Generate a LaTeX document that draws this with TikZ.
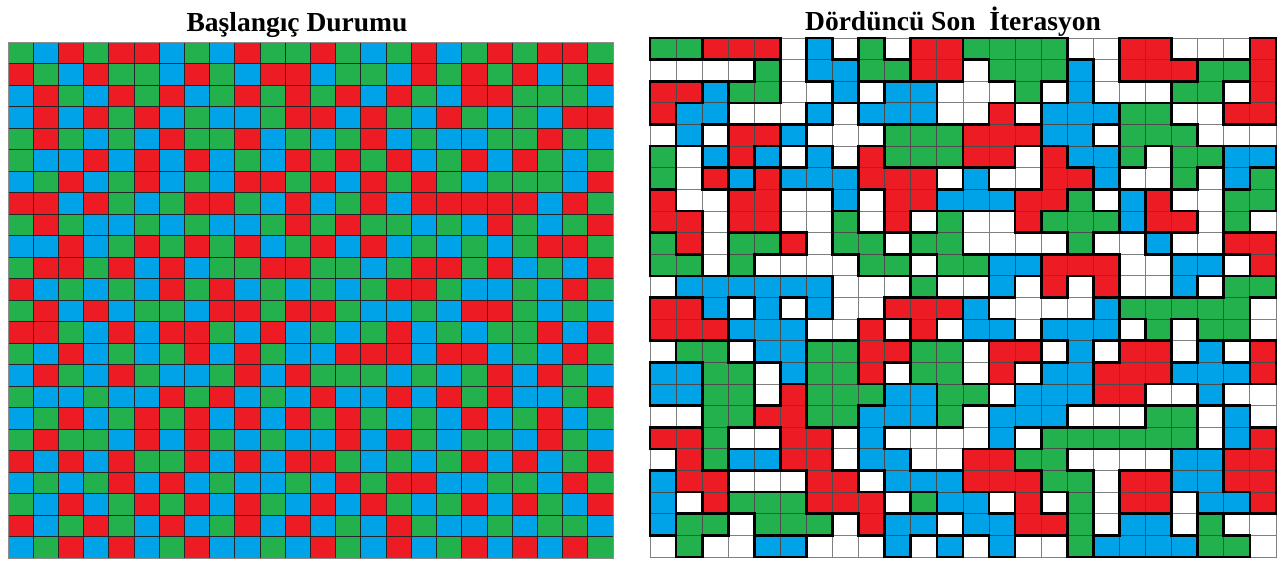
\documentclass[tikz,border=0pt]{standalone}
\usepackage{fontspec}
\setmainfont{Liberation Serif}
\usepackage{xcolor}
\usetikzlibrary{calc}

\definecolor{cellG}{RGB}{34,177,76}
\definecolor{cellR}{RGB}{237,28,36}
\definecolor{cellB}{RGB}{0,162,232}
\definecolor{cellW}{RGB}{255,255,255}
\colorlet{lineG}{black!70}
\colorlet{lineR}{black!70}
\colorlet{lineB}{black!70}
\colorlet{lineW}{black!50}

% colour of cell (row #2, col #3) of the last grid, W outside
\newcommand\getsq[3]{\ifcsname sq#2-#3\endcsname\edef#1{\csname sq#2-#3\endcsname}\else\def#1{W}\fi}

\begin{document}
\begin{tikzpicture}[x=1pt,y=-1pt,
  cellline/.style={draw=black!85, line width=0.9pt},
  wall/.style={draw=black, line width=2.7pt, line cap=rect},
  title/.style={font=\fontsize{27.5}{30}\selectfont\bfseries, anchor=base, inner sep=0pt}]
\useasboundingbox (0,0) rectangle (1281,563);

% titles
\node[title] (startTitle) at (297,31) {Başlangıç Durumu};
\node[title] (lastTitle) at (953,30) {Dördüncü Son\ \ İterasyon};

% start grid: 24 x 24 cells
\def\ax{8} \def\ay{42} \def\aw{25.21} \def\ah{21.5}
\foreach \row [count=\r from 0] in {
  {G,B,R,G,R,R,B,G,B,R,G,G,R,G,B,G,R,B,G,R,G,R,R,G},
  {R,G,B,R,G,G,B,R,G,B,R,R,B,G,G,B,R,G,R,G,R,B,G,R},
  {B,R,G,B,R,G,R,B,G,R,G,R,G,R,B,R,G,B,R,R,G,G,G,B},
  {B,R,B,R,G,R,B,G,B,B,G,R,R,B,R,G,B,R,G,B,G,B,R,R},
  {G,R,G,B,G,B,R,G,G,R,B,G,B,G,R,B,G,B,B,G,G,R,G,B},
  {G,B,B,R,B,R,B,R,B,G,B,R,G,R,G,R,B,G,R,B,R,G,B,G},
  {B,G,R,B,G,R,B,G,B,R,R,G,R,B,R,G,R,G,B,G,G,G,B,R},
  {R,R,B,R,G,B,G,R,R,G,B,R,B,G,R,B,R,R,R,R,R,B,R,G},
  {G,R,G,B,B,G,B,G,B,B,G,R,G,R,G,G,B,G,B,R,G,B,G,R},
  {B,B,R,B,G,R,G,R,G,R,B,G,R,B,R,B,G,B,G,B,G,R,R,G},
  {G,R,R,G,R,B,R,B,G,G,R,R,G,G,B,G,R,R,G,R,B,G,B,R},
  {R,B,G,B,G,B,R,G,R,B,G,B,G,B,G,R,R,G,B,B,G,B,R,G},
  {G,R,B,R,B,G,G,B,R,R,G,R,R,G,B,B,G,B,R,R,G,B,G,B},
  {R,R,G,B,R,B,R,R,G,B,R,B,G,B,G,R,B,G,B,G,G,R,B,R},
  {G,B,R,B,G,B,G,R,B,R,G,B,B,R,R,R,B,R,R,B,G,B,R,G},
  {B,R,G,B,R,G,B,B,G,R,B,R,G,G,G,B,G,B,G,R,B,R,G,B},
  {G,B,B,G,B,B,R,G,R,B,G,B,R,B,B,R,B,R,G,R,B,B,G,R},
  {B,G,R,B,G,R,G,R,B,R,B,R,G,R,G,B,G,B,R,B,G,R,B,G},
  {G,R,G,G,B,R,B,R,G,B,G,B,B,R,B,R,G,B,G,G,B,R,G,B},
  {R,B,R,B,R,G,G,R,B,R,B,R,R,G,B,G,B,G,R,B,R,B,G,R},
  {B,G,B,G,R,B,R,B,G,B,B,G,B,R,G,R,R,B,B,G,G,B,R,G},
  {G,B,R,B,G,R,G,R,B,R,G,B,R,B,R,G,B,G,R,B,R,G,B,R},
  {R,B,G,R,G,B,R,B,G,R,B,R,B,G,B,R,G,B,B,G,B,G,G,B},
  {B,G,R,B,R,B,G,R,B,B,G,B,R,G,B,R,B,G,R,B,R,B,R,G}}{
  \foreach \c [count=\k from 0] in \row {
    \filldraw[fill=cell\c, cellline] (\ax+\k*\aw, \ay+\r*\ah) rectangle ++(\aw,\ah);
  }
}
\draw[black!45, line width=0.8pt] (\ax,\ay) rectangle (\ax+24*\aw, \ay+24*\ah);

% last grid: 24 x 24 cells, W = empty
\def\bx{650} \def\by{38} \def\bw{26.08} \def\bh{21.625}
\foreach \row [count=\r from 0] in {
  {G,G,R,R,R,W,B,W,G,W,R,R,G,G,G,G,W,W,R,R,W,W,W,R},
  {W,W,W,W,G,W,B,B,G,G,R,R,W,G,G,G,B,W,R,R,R,G,G,R},
  {R,R,B,G,G,W,W,B,W,B,B,W,W,W,G,W,B,W,W,W,G,G,W,R},
  {R,B,B,W,W,W,B,W,B,B,B,W,W,R,W,B,B,B,G,G,W,W,R,R},
  {W,B,W,R,R,B,W,W,W,G,G,G,R,R,R,B,B,W,G,G,G,W,W,W},
  {G,W,B,R,B,W,B,W,R,G,G,G,R,R,W,R,B,B,G,W,G,G,B,B},
  {G,W,R,B,R,B,B,B,R,R,R,W,B,W,W,R,R,B,W,W,G,W,B,G},
  {R,W,W,R,R,W,W,B,W,R,R,B,B,B,R,R,G,W,B,R,W,W,G,G},
  {R,R,W,R,R,W,W,G,W,R,W,G,W,W,R,G,G,G,B,R,R,W,G,W},
  {G,R,W,G,G,R,W,G,G,W,G,G,W,W,W,W,G,W,W,B,W,W,R,R},
  {G,G,W,G,W,W,W,W,G,G,W,G,G,B,B,R,R,R,W,W,B,B,W,R},
  {W,B,B,B,B,B,B,W,W,W,G,W,W,B,W,R,W,R,W,W,B,W,G,G},
  {R,R,B,W,B,W,B,W,W,R,R,R,B,W,W,W,W,B,G,G,G,G,G,W},
  {R,R,R,B,B,B,W,W,R,W,R,W,B,B,W,B,B,B,W,G,W,G,G,W},
  {W,G,G,W,B,B,G,G,R,R,G,G,W,R,R,W,B,W,R,R,W,B,W,R},
  {B,B,G,G,W,B,G,G,R,W,G,G,W,R,W,B,B,R,R,R,B,B,B,R},
  {B,B,G,G,W,R,G,G,G,B,B,G,G,W,B,B,B,R,R,W,W,B,W,W},
  {W,W,G,G,R,R,G,G,B,B,B,G,W,B,B,B,W,W,W,G,G,W,B,W},
  {R,R,G,W,W,R,R,W,B,W,W,W,W,B,W,G,G,G,G,G,G,W,B,R},
  {W,R,G,B,B,R,R,W,B,B,W,W,R,R,G,G,W,W,W,W,B,B,R,R},
  {B,R,R,W,W,W,R,R,W,B,B,B,R,R,R,G,G,W,R,R,B,B,R,R},
  {B,W,R,G,G,G,R,R,R,W,G,B,B,W,R,W,G,W,R,R,W,B,B,R},
  {B,G,G,W,G,G,G,W,R,B,B,W,B,B,R,R,G,W,B,B,W,G,W,W},
  {W,G,W,W,B,B,W,W,W,B,W,B,W,B,W,W,G,B,B,B,B,G,G,W}}{
  \foreach \c [count=\k from 0] in \row {
    \filldraw[fill=cell\c, draw=line\c, line width=0.8pt] (\bx+\k*\bw, \by+\r*\bh) rectangle ++(\bw,\bh);
    \expandafter\xdef\csname sq\r-\k\endcsname{\c}
  }
}
% thick walls between different cells
\foreach \r in {-1,...,23}{
  \foreach \k in {-1,...,23}{
    \pgfmathtruncatemacro\kk{\k+1}
    \pgfmathtruncatemacro\rr{\r+1}
    \getsq\cur{\r}{\k}\getsq\rt{\r}{\kk}\getsq\dn{\rr}{\k}
    \ifx\cur\rt\else
      \draw[wall] (\bx+\kk*\bw, \by+\r*\bh) -- ++(0,\bh);
    \fi
    \ifx\cur\dn\else
      \draw[wall] (\bx+\k*\bw, \by+\rr*\bh) -- ++(\bw,0);
    \fi
  }
}
\end{tikzpicture}
\end{document}
